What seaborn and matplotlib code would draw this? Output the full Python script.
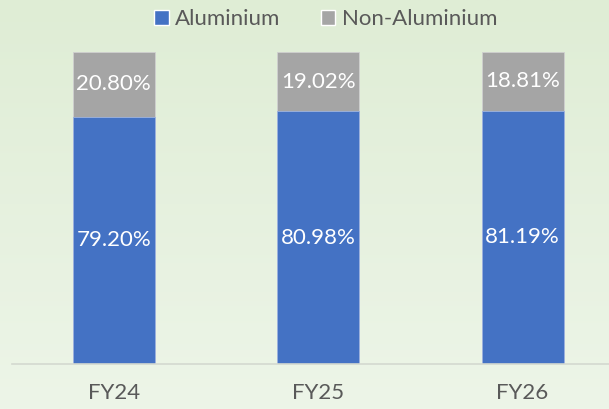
import numpy as np
import pandas as pd
import matplotlib
matplotlib.use('Agg')
import matplotlib.pyplot as plt
from matplotlib.colors import LinearSegmentedColormap
from matplotlib.patches import Patch
import seaborn as sns

# data
years = ['FY24', 'FY25', 'FY26']
aluminium = [79.20, 80.98, 81.19]
non_aluminium = [20.80, 19.02, 18.81]

blue = '#4472C4'
grey = '#A5A5A5'
txt = '#595959'

sns.set_theme(style='white')
plt.rcParams['font.family'] = ['Lato', 'DejaVu Sans']

df = pd.DataFrame({'year': years, 'alu': aluminium, 'non': non_aluminium})
df['total'] = df['alu'] + df['non']

fig = plt.figure(figsize=(6.09, 4.09), dpi=100)

# gradient background
bg = fig.add_axes([0, 0, 1, 1], zorder=-10)
cmap = LinearSegmentedColormap.from_list('bg', ['#dfedd5', '#edf5e8'])
bg.imshow(np.linspace(0, 1, 256).reshape(-1, 1), aspect='auto', cmap=cmap,
          extent=[0, 1, 0, 1])
bg.axis('off')

ax = fig.add_axes([0.019, 0.110, 1.007, 0.763])
ax.patch.set_alpha(0)

sns.barplot(data=df, x='year', y='total', color=grey, width=0.4,
            saturation=1, ax=ax, edgecolor='#d0d0d0', linewidth=0.6)
sns.barplot(data=df, x='year', y='alu', color=blue, width=0.4,
            saturation=1, ax=ax, edgecolor='#9fb4e0', linewidth=0.6)

for i, row in df.iterrows():
    ax.text(i, row['alu'] / 2, f"{row['alu']:.2f}%", ha='center', va='center',
            color='white', fontsize=16)
    ax.text(i, row['alu'] + row['non'] / 2, f"{row['non']:.2f}%", ha='center',
            va='center', color='white', fontsize=16)

ax.set_ylim(0, 100)
ax.set_xlim(-0.5, 2.5)
ax.set_xlabel('')
ax.set_ylabel('')
ax.set_yticks([])
for s in ['top', 'right', 'left']:
    ax.spines[s].set_visible(False)
ax.spines['bottom'].set_color('#d4d9d0')
ax.spines['bottom'].set_linewidth(1.2)

ax.set_xticks([0, 1, 2])
ax.set_xticklabels(years, fontsize=16, color=txt)
ax.tick_params(axis='x', length=0, pad=14)
# category separators
ax.set_xticks([-0.5, 0.5, 1.5, 2.5], minor=True)
ax.tick_params(axis='x', which='minor', length=7, width=1.2, color='#d4d9d0',
               direction='out')

handles = [Patch(facecolor=blue, label='Aluminium'),
           Patch(facecolor=grey, label='Non-Aluminium')]
fig.legend(handles=handles, loc='center', bbox_to_anchor=(0.535, 0.953), ncol=2,
           frameon=False, fontsize=16, labelcolor=txt, handlelength=0.65,
           handleheight=0.65, handletextpad=0.3, columnspacing=1.8)

fig.savefig('out.png', dpi=100)
